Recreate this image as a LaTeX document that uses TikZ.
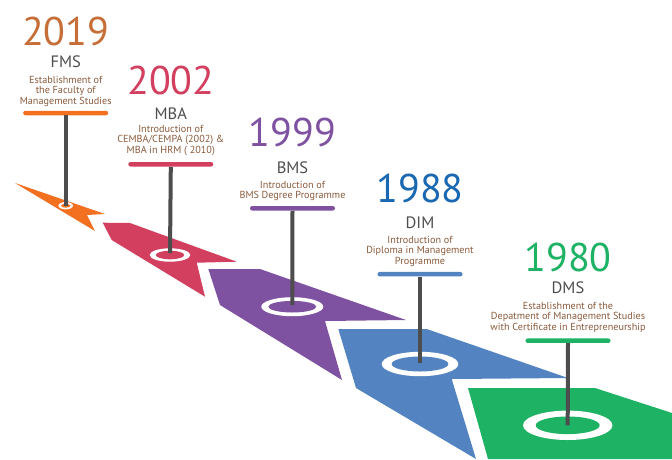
\documentclass[tikz,border=0pt]{standalone}
\usepackage{fontspec}
\setmainfont{PT Sans}
\usetikzlibrary{positioning}

\definecolor{fmsorange}{HTML}{F37021}
\definecolor{fmsyear}{HTML}{C66E38}
\definecolor{mbared}{HTML}{D23F5F}
\definecolor{bmspurple}{HTML}{7F52A1}
\definecolor{dimblue}{HTML}{5384C1}
\definecolor{dimyear}{HTML}{1B68B2}
\definecolor{dmsgreen}{HTML}{1DB264}
\definecolor{polegray}{HTML}{4D4D4D}
\definecolor{aboutbrown}{HTML}{8A5A3C}

\tikzset{
  year/.style={anchor=base, inner sep=0pt, font=\fontsize{40}{40}\selectfont},
  unit/.style={anchor=base, inner sep=0pt, text=polegray, font=\fontsize{16.5}{16.5}\selectfont},
  about/.style={anchor=base, inner sep=0pt, align=center, text=aboutbrown, font=\fontsize{10.2}{10.6}\selectfont},
  bar/.style={rectangle, rounded corners=2.2pt, fill=#1, minimum width=85pt, minimum height=4.5pt, inner sep=0pt},
  pole/.style={line width=4pt, draw=polegray},
}

\begin{document}
\begin{tikzpicture}[x=1pt, y=-1pt]
\useasboundingbox (0,0) rectangle (672,459);

% road pieces
\fill[fmsorange] (15,183) -- (105,214) -- (87,215) -- (95,231) -- cycle;
\fill[mbared] (102.7,222.7) -- (130,223) -- (236.7,261.7) -- (196.7,262.7) -- (205,296.7) -- (111.7,240) -- cycle;
\fill[bmspurple] (208.3,269) -- (260,269) -- (406,320) -- (325,321) -- (342,380) -- (220,305) -- cycle;
\fill[dimblue] (338.3,329) -- (426.7,329) -- (568,378) -- (451.7,379) -- (476,459) -- (356,388) -- cycle;
\fill[dmsgreen] (468,388) -- (595,388) -- (672,413) -- (672,459) -- (488,459) -- cycle;

% rings
\coordinate (fmsring) at (65.7,205.7);
\coordinate (mbaring) at (170,255);
\coordinate (bmsring) at (292.3,306.7);
\coordinate (dimring) at (420,364);
\coordinate (dmsring) at (567.7,425.3);
\fill[white] (fmsring) ellipse [x radius=7.3pt, y radius=3.7pt];
\fill[fmsorange] (fmsring) ellipse [x radius=4.6pt, y radius=2pt];
\fill[white] (mbaring) ellipse [x radius=20.3pt, y radius=6.7pt];
\fill[mbared] (mbaring) ellipse [x radius=14.2pt, y radius=4.3pt];
\fill[white] (bmsring) ellipse [x radius=31pt, y radius=9.5pt];
\fill[bmspurple] (bmsring) ellipse [x radius=24pt, y radius=5.8pt];
\fill[white] (dimring) ellipse [x radius=38.3pt, y radius=12.2pt];
\fill[dimblue] (dimring) ellipse [x radius=28.3pt, y radius=7.5pt];
\fill[white] (dmsring) ellipse [x radius=44.7pt, y radius=14.7pt];
\fill[dmsgreen] (dmsring) ellipse [x radius=32pt, y radius=8.8pt];

% bars and poles
\node[bar=fmsorange] (fmsbar) at (65.7,113) {};
\node[bar=mbared] (mbabar) at (170.8,164.3) {};
\node[bar=bmspurple] (bmsbar) at (292.5,208.3) {};
\node[bar=dimblue] (dimbar) at (420,274.2) {};
\node[bar=dmsgreen] (dmsbar) at (568,340.7) {};
\draw[pole] (fmsbar.south) -- (fmsring);
\draw[pole] (mbabar.south) -- ([yshift=2pt]mbaring);
\draw[pole] (bmsbar.south) -- ([yshift=1.5pt]bmsring);
\draw[pole] (dimbar.south) -- ([yshift=1pt]dimring);
\draw[pole] (dmsbar.south) -- (dmsring);

% 2019
\node[year, text=fmsyear] (fmsyr) at (65.7,45) {2019};
\node[unit] (fmsunit) at (65.7,67) {FMS};
\node[about] (fmsabout) at (65.7,104.2) {Establishment of\\the Faculty of\\Management Studies};

% 2002
\node[year, text=mbared] (mbayr) at (170.8,94.3) {2002};
\node[unit] (mbaunit) at (170.8,119) {MBA};
\node[about] (mbaabout) at (170.8,153.2) {Introduction of\\CEMBA/CEMPA (2002) \&\\MBA in HRM ( 2010)};

% 1999
\node[year, text=bmspurple] (bmsyr) at (292.5,146.7) {1999};
\node[unit] (bmsunit) at (292.5,173.3) {BMS};
\node[about] (bmsabout) at (292.5,198.9) {Introduction of\\BMS Degree Programme};

% 1988
\node[year, text=dimyear] (dimyr) at (420,202.7) {1988};
\node[unit] (dimunit) at (420,228.3) {DIM};
\node[about] (dimabout) at (420,264.5) {Introduction of\\Diploma in Management\\Programme};

% 1980
\node[year, text=dmsgreen] (dmsyr) at (568,271.7) {1980};
\node[unit] (dmsunit) at (568,293.3) {DMS};
\node[about] (dmsabout) at (568,330.2) {Establishment of the\\Depatment of Management Studies\\with Certificate in Entrepreneurship};
\end{tikzpicture}
\end{document}
